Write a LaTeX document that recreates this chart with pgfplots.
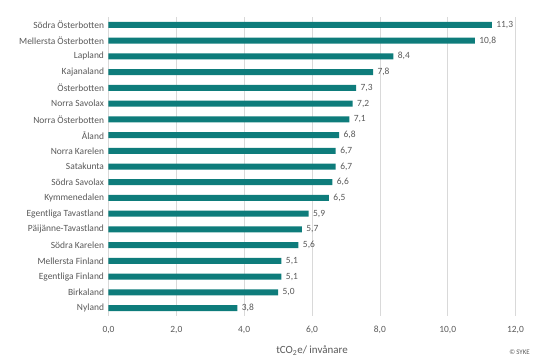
\documentclass[border=0pt]{standalone}
\usepackage{pgfplots}
\pgfplotsset{compat=1.18}
\usepackage{pgfplotstable}
\usepackage{fontspec}
\setmainfont{Carlito}
\definecolor{bar}{RGB}{14,124,123}
\definecolor{txt}{RGB}{89,89,89}
\definecolor{grd}{RGB}{217,217,217}
\pgfplotstableread[col sep=comma]{
idx,val
0,11.3
1,10.8
2,8.4
3,7.8
4,7.3
5,7.2
6,7.1
7,6.8
8,6.7
9,6.7
10,6.6
11,6.5
12,5.9
13,5.7
14,5.6
15,5.1
16,5.1
17,5.0
18,3.8
}\data
\begin{document}
\begin{tikzpicture}[x=1bp,y=1bp]
\path[use as bounding box] (-108.5,-44) rectangle (447.5,316);
\begin{axis}[
  at={(0,0)}, anchor=south west,
  scale only axis, width=407bp, height=299bp,
  xbar, bar width=6bp,
  xmin=0, xmax=12, ymin=-0.5, ymax=18.5,
  y dir=reverse,
  axis line style={draw=none},
  xtick={0,2,...,12}, xmajorgrids, major grid style={grd, line width=0.6pt},
  ytick={0,...,18},
  yticklabels={Södra Österbotten,Mellersta Österbotten,Lapland,Kajanaland,Österbotten,Norra Savolax,Norra Österbotten,Åland,Norra Karelen,Satakunta,Södra Savolax,Kymmenedalen,Egentliga Tavastland,Päijänne-Tavastland,Södra Karelen,Mellersta Finland,Egentliga Finland,Birkaland,Nyland},
  major tick length=0pt,
  tick label style={font=\fontsize{9.5}{11}\selectfont, text=txt},
  /pgf/number format/assume math mode=true,
  xticklabel style={/pgf/number format/.cd, fixed, fixed zerofill, precision=1, use comma},
  xticklabel shift=7bp,
  yticklabel style={xshift=-1bp},
  xlabel={tCO\textsubscript{2}e/ invånare},
  xlabel style={font=\fontsize{11}{13}\selectfont, text=txt, yshift=-5bp},
  nodes near coords,
  every node near coord/.append style={font=\fontsize{9.5}{11}\selectfont, text=txt, xshift=1bp, /pgf/number format/.cd, fixed, fixed zerofill, precision=1, use comma, assume math mode=true},
  clip=false,
]
\addplot[fill=bar, draw=none] table[x=val, y=idx] {\data};
\node[font=\fontsize{7}{8}\selectfont, text=txt, anchor=center] at (rel axis cs:1.01,0) [yshift=-36bp] {©\,SYKE};
\end{axis}
\end{tikzpicture}
\end{document}
